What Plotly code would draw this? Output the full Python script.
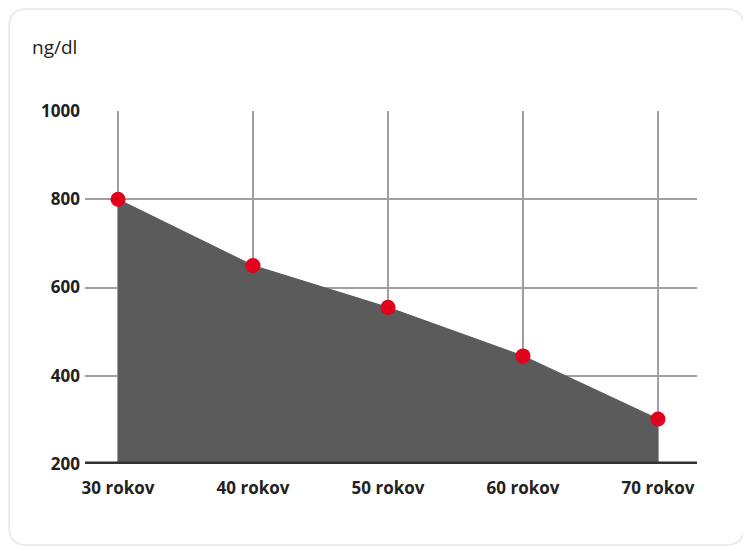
import plotly.graph_objects as go

categories = ["30 rokov", "40 rokov", "50 rokov", "60 rokov", "70 rokov"]
values = [800, 650, 555, 445, 302]
y_ticks = [200, 400, 600, 800, 1000]

# page body has an 8px margin, so shift everything up/left by 8
OFF = 8
W, H = 751 - OFF, 551 - OFF
L, R, T, B = 85 - OFF, 54, 111 - OFF, 87
pos = list(range(len(categories)))

fig = go.Figure()
fig.add_trace(go.Scatter(
    x=pos, y=values, mode="lines", fill="tozeroy",
    fillcolor="#5b5b5b", line=dict(color="#5b5b5b", width=1), hoverinfo="skip",
))
fig.add_trace(go.Scatter(
    x=pos, y=values, mode="markers",
    marker=dict(color="#e2001a", size=15), hoverinfo="skip",
))

# px -> paper helpers for the card outline (reference pixel coords)
pw, ph = W - L - R, H - T - B
def px(x): return (x - OFF - L) / pw
def py(y): return 1 - (y - OFF - T) / ph
x0, x1, y0, y1, r = 9, 744, 9, 545, 18
path = (f"M {px(x0 + r)} {py(y0)} L {px(x1 - r)} {py(y0)} "
        f"Q {px(x1)} {py(y0)} {px(x1)} {py(y0 + r)} L {px(x1)} {py(y1 - r)} "
        f"Q {px(x1)} {py(y1)} {px(x1 - r)} {py(y1)} L {px(x0 + r)} {py(y1)} "
        f"Q {px(x0)} {py(y1)} {px(x0)} {py(y1 - r)} L {px(x0)} {py(y0 + r)} "
        f"Q {px(x0)} {py(y0)} {px(x0 + r)} {py(y0)} Z")

fig.update_layout(
    width=W, height=H, margin=dict(l=L, r=R, t=T, b=B),
    paper_bgcolor="white", plot_bgcolor="white", showlegend=False,
    font=dict(family="Open Sans", color="#222"),
    xaxis=dict(range=[-33 / 135, 4 + 39 / 135], tickvals=pos, ticktext=categories,
               showgrid=True, gridcolor="#a0a0a0", gridwidth=2, zeroline=False,
               tickfont=dict(size=17, family="Open Sans", weight="bold"),
               ticklen=0, ticklabelstandoff=12),
    yaxis=dict(range=[200, 1000], tickvals=y_ticks, showgrid=True,
               gridcolor="#a0a0a0", gridwidth=2, zeroline=False,
               tickfont=dict(size=17, family="Open Sans", weight="bold"),
               ticklen=0, ticklabelstandoff=4),
    shapes=[
        dict(type="line", xref="paper", yref="y", x0=0, x1=1, y0=200, y1=200,
             line=dict(color="#333", width=5), layer="above"),
        dict(type="path", xref="paper", yref="paper", path=path,
             line=dict(color="#e6e6e6", width=1.5)),
    ],
    annotations=[dict(text="ng/dl", xref="paper", yref="paper", x=px(30), y=py(47),
                      xanchor="left", yanchor="middle", showarrow=False,
                      font=dict(size=19, color="#222"))],
)
fig.update_traces(cliponaxis=False, selector=dict(mode="markers"))
fig.write_html("out.html")
